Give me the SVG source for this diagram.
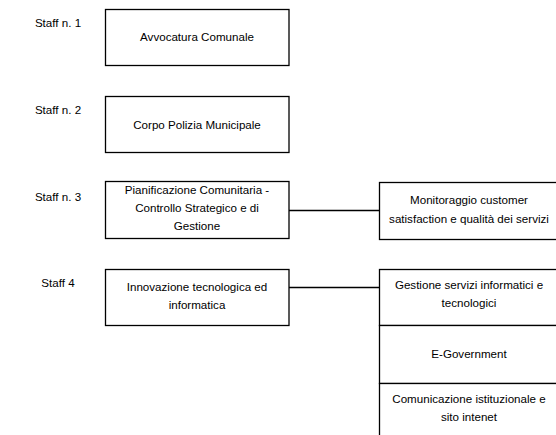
<svg xmlns="http://www.w3.org/2000/svg" width="556" height="435" viewBox="0 0 556 435">
<style>
.box{fill:#fff;stroke:#000;stroke-width:1.3}
.ln{stroke:#000;stroke-width:1.3;fill:none}
text{font-family:"Comic Sans MS","Liberation Sans",sans-serif;font-size:11.6px;fill:#000}
.c{text-anchor:middle}
</style>
<rect width="556" height="435" fill="#fff"/>
<g id="staff1">
<text x="58" y="27" class="c">Staff n. 1</text>
<rect class="box" x="105.5" y="9.5" width="183.5" height="56"/>
<text x="197" y="41" class="c">Avvocatura Comunale</text>
</g>
<g id="staff2">
<text x="58" y="114" class="c">Staff n. 2</text>
<rect class="box" x="105.5" y="96.5" width="183.5" height="56"/>
<text x="197" y="129" class="c">Corpo Polizia Municipale</text>
</g>
<g id="staff3">
<text x="58" y="201" class="c">Staff n. 3</text>
<rect class="box" x="105.5" y="181.5" width="183.5" height="57"/>
<text x="197" y="194" class="c">Pianificazione Comunitaria -</text>
<text x="197" y="212" class="c">Controllo Strategico e di</text>
<text x="197" y="230" class="c">Gestione</text>
</g>
<g id="staff4">
<text x="58" y="287" class="c">Staff 4</text>
<rect class="box" x="105.5" y="269.5" width="183.5" height="56"/>
<text x="197" y="291" class="c">Innovazione tecnologica ed</text>
<text x="197" y="309" class="c">informatica</text>
</g>
<g id="monitoraggio">
<rect class="box" x="379.5" y="182.5" width="180" height="57"/>
<text x="469" y="204" class="c">Monitoraggio customer</text>
<text x="469" y="223" class="c">satisfaction e qualità dei servizi</text>
</g>
<g id="gestione">
<rect class="box" x="379.5" y="269.5" width="180" height="56"/>
<text x="469" y="289" class="c">Gestione servizi informatici e</text>
<text x="469" y="307" class="c">tecnologici</text>
</g>
<g id="egov">
<rect class="box" x="379.5" y="325.5" width="180" height="58"/>
<text x="469" y="358" class="c">E-Government</text>
</g>
<g id="comunicazione">
<rect class="box" x="379.5" y="383.5" width="180" height="60"/>
<text x="469" y="403" class="c">Comunicazione istituzionale e</text>
<text x="469" y="421" class="c">sito intenet</text>
</g>
<g id="connectors">
<line class="ln" x1="289" y1="210.5" x2="379.5" y2="210.5"/>
<line class="ln" x1="289" y1="287.5" x2="379.5" y2="287.5"/>
</g>
</svg>
